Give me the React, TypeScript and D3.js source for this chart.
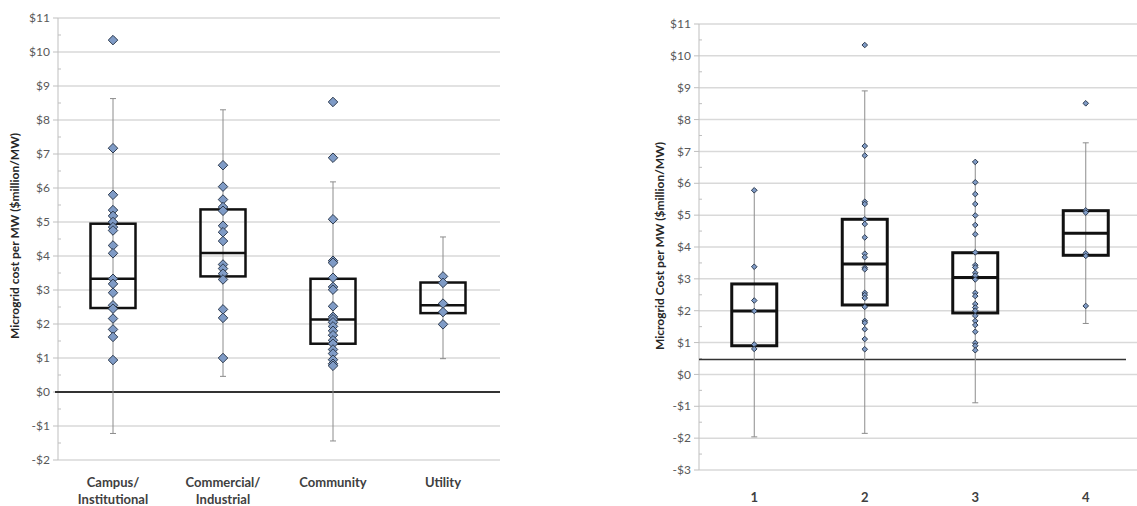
import { useEffect, useRef } from "react";
import * as d3 from "d3";

// ── Left panel: by customer segment ─────────────────────────────
const leftCategories = [["Campus/", "Institutional"], ["Commercial/", "Industrial"], ["Community"], ["Utility"]];
const leftQ1 = [2.47, 3.4, 1.42, 2.32];
const leftMedian = [3.33, 4.09, 2.13, 2.55];
const leftQ3 = [4.95, 5.37, 3.33, 3.22];
const leftLow = [-1.22, 0.46, -1.44, 0.98];
const leftHigh = [8.63, 8.3, 6.18, 4.56];
const leftPoints = [
  [10.35, 7.17, 5.8, 5.35, 5.18, 5.0, 4.85, 4.75, 4.31, 4.08, 3.33, 3.18, 2.92, 2.55, 2.45, 2.16, 1.84, 1.62, 0.94],
  [6.67, 6.04, 5.66, 5.44, 5.33, 4.89, 4.7, 4.44, 3.75, 3.63, 3.48, 3.31, 2.43, 2.18, 1.0],
  [8.53, 6.89, 5.08, 3.86, 3.8, 3.36, 3.09, 3.01, 2.52, 2.21, 2.14, 2.05, 1.93, 1.8, 1.67, 1.52, 1.42, 1.25, 1.13, 0.95, 0.83, 0.77],
  [3.4, 3.21, 2.6, 2.35, 1.99],
];
const leftTicks = [11, 10, 9, 8, 7, 6, 5, 4, 3, 2, 1, 0, -1, -2];

// ── Right panel: by group 1–4 ───────────────────────────────────
const rightCategories = [["1"], ["2"], ["3"], ["4"]];
const rightQ1 = [0.9, 2.18, 1.93, 3.74];
const rightMedian = [1.99, 3.47, 3.04, 4.43];
const rightQ3 = [2.84, 4.87, 3.82, 5.14];
const rightLow = [-1.96, -1.85, -0.89, 1.6];
const rightHigh = [5.78, 8.9, 6.67, 7.27];
const rightPoints = [
  [5.78, 3.38, 2.32, 1.99, 0.94, 0.8],
  [10.34, 7.17, 6.87, 5.42, 5.35, 4.87, 4.72, 4.3, 3.79, 3.68, 3.35, 3.3, 2.56, 2.49, 2.4, 2.12, 1.68, 1.62, 1.42, 1.11, 0.79],
  [6.67, 6.03, 5.66, 5.35, 4.99, 4.69, 4.4, 3.83, 3.43, 3.36, 3.19, 3.1, 2.98, 2.56, 2.46, 2.21, 2.1, 2.0, 1.84, 1.68, 1.55, 1.34, 0.99, 0.9, 0.76],
  [8.51, 5.15, 5.08, 3.8, 3.72, 2.15],
];
const rightTicks = [11, 10, 9, 8, 7, 6, 5, 4, 3, 2, 1, 0, -1, -2, -3];
const rightRefValue = 0.47;

const FONT = "Lato, 'Open Sans', Arial, sans-serif";

type Panel = {
  cats: string[][];
  q1: number[]; med: number[]; q3: number[]; low: number[]; high: number[];
  pts: number[][];
  ticks: number[];
  refValue: number;
  yTitle: string;
  left: number; right: number; gridRight: number; top: number; bottom: number;
  refX0: number; refX1: number; refWidth: number;
  boxStroke: number; markerArea: number; titleX: number; titleY: number;
  labelY: number;
};

function drawPanel(svg: d3.Selection<SVGSVGElement, unknown, null, undefined>, p: Panel) {
  const domain: [number, number] = [p.ticks[p.ticks.length - 1], p.ticks[0]];
  const y = d3.scaleLinear().domain(domain).range([p.bottom, p.top]);
  const x = d3.scaleBand<number>().domain(p.cats.map((_, i) => i)).range([p.left, p.right]);
  const g = svg.append("g");

  // gridlines
  g.selectAll(".grid").data(p.ticks).enter().append("line")
    .attr("x1", p.left).attr("x2", p.gridRight)
    .attr("y1", d => y(d)).attr("y2", d => y(d))
    .attr("stroke", "#d9d9d9").attr("stroke-width", 1.5);

  // y axis line + ticks
  g.append("line").attr("x1", p.left).attr("x2", p.left).attr("y1", p.top).attr("y2", p.bottom)
    .attr("stroke", "#bfbfbf").attr("stroke-width", 1);
  g.selectAll(".maj").data(p.ticks).enter().append("line")
    .attr("x1", p.left - 5).attr("x2", p.left)
    .attr("y1", d => y(d)).attr("y2", d => y(d))
    .attr("stroke", "#bfbfbf");
  g.selectAll(".min").data(p.ticks.slice(1)).enter().append("line")
    .attr("x1", p.left).attr("x2", p.left + 3)
    .attr("y1", d => y(d + 0.5)).attr("y2", d => y(d + 0.5))
    .attr("stroke", "#bfbfbf");

  g.selectAll(".tl").data(p.ticks).enter().append("text")
    .attr("x", p.left - 8).attr("y", d => y(d)).attr("dy", "0.35em")
    .attr("text-anchor", "end")
    .style("font-family", FONT).style("font-size", "12px").style("fill", "#595959")
    .text(d => (d < 0 ? `-$${-d}` : `$${d}`));

  // y title
  g.append("text")
    .attr("transform", `translate(${p.titleX},${p.titleY}) rotate(-90)`)
    .attr("text-anchor", "middle").attr("dy", "0.35em")
    .style("font-family", FONT).style("font-size", "12px").style("font-weight", "700").style("fill", "#262626")
    .text(p.yTitle);

  // reference line
  g.append("line").attr("x1", p.refX0).attr("x2", p.refX1)
    .attr("y1", y(p.refValue)).attr("y2", y(p.refValue))
    .attr("stroke", "#333").attr("stroke-width", p.refWidth);

  const bw = 45;
  p.cats.forEach((_, i) => {
    const cx = (x(i) as number) + x.bandwidth() / 2;
    // whisker
    g.append("line").attr("x1", cx).attr("x2", cx).attr("y1", y(p.high[i])).attr("y2", y(p.low[i]))
      .attr("stroke", "#8c8c8c").attr("stroke-width", 1);
    [p.high[i], p.low[i]].forEach(v => {
      g.append("line").attr("x1", cx - 3).attr("x2", cx + 3).attr("y1", y(v)).attr("y2", y(v))
        .attr("stroke", "#8c8c8c").attr("stroke-width", 1);
    });
    // box
    g.append("rect").attr("x", cx - bw / 2).attr("y", y(p.q3[i]))
      .attr("width", bw).attr("height", y(p.q1[i]) - y(p.q3[i]))
      .attr("fill", "none").attr("stroke", "#111").attr("stroke-width", p.boxStroke);
    g.append("line").attr("x1", cx - bw / 2).attr("x2", cx + bw / 2)
      .attr("y1", y(p.med[i])).attr("y2", y(p.med[i]))
      .attr("stroke", "#111").attr("stroke-width", p.boxStroke);
    // points
    const sym = d3.symbol().type(d3.symbolDiamond2).size(p.markerArea);
    g.selectAll(null).data(p.pts[i]).enter().append("path")
      .attr("d", sym() as string)
      .attr("transform", d => `translate(${cx},${y(d)})`)
      .attr("fill", "#7f9bc6").attr("stroke", "#2e3b4e").attr("stroke-width", 1);
    // category label
    p.cats[i].forEach((line, j) => {
      g.append("text").attr("x", cx).attr("y", p.labelY + j * 17).attr("dy", "0.35em")
        .attr("text-anchor", "middle")
        .style("font-family", FONT).style("font-size", "13px").style("font-weight", "700").style("fill", "#404040")
        .text(line);
    });
  });
}

const App = () => {
  const ref = useRef<SVGSVGElement>(null);

  useEffect(() => {
    const el = ref.current;
    if (!el) return;
    const svg = d3.select(el);
    svg.selectAll("*").remove();
    svg.append("rect").attr("width", 1137).attr("height", 506).attr("fill", "#fff");

    drawPanel(svg, {
      cats: leftCategories, q1: leftQ1, med: leftMedian, q3: leftQ3, low: leftLow, high: leftHigh,
      pts: leftPoints, ticks: leftTicks, refValue: 0,
      yTitle: "Microgrid cost per MW ($million/MW)",
      left: 58, right: 498, gridRight: 500, top: 18, bottom: 460,
      refX0: 55, refX1: 500, refWidth: 2,
      boxStroke: 2.5, markerArea: 58, titleX: 15, titleY: 236, labelY: 482,
    });
    drawPanel(svg, {
      cats: rightCategories, q1: rightQ1, med: rightMedian, q3: rightQ3, low: rightLow, high: rightHigh,
      pts: rightPoints, ticks: rightTicks, refValue: rightRefValue,
      yTitle: "Microgrid Cost per MW ($million/MW)",
      left: 699, right: 1141, gridRight: 1137, top: 24, bottom: 470,
      refX0: 699, refX1: 1126, refWidth: 1.5,
      boxStroke: 3, markerArea: 20, titleX: 660, titleY: 246, labelY: 497,
    });

    return () => { svg.selectAll("*").remove(); };
  }, []);

  return (
    <svg ref={ref} width={1137} height={506}
      style={{ position: "absolute", left: 0, top: 0, display: "block" }} />
  );
};

export default App;
